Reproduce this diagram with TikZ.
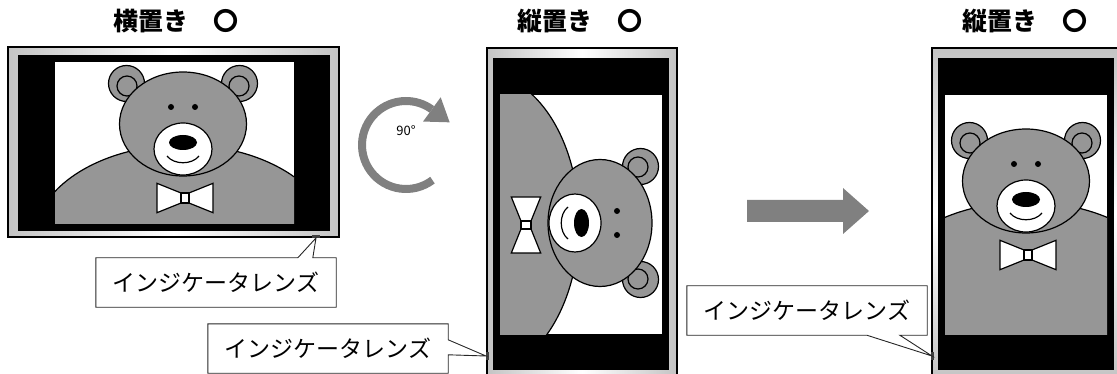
\documentclass[tikz,border=0pt]{standalone}
\usepackage{fontspec}
\newfontfamily\jp{Noto Sans CJK JP}
\usetikzlibrary{calc}
\definecolor{fur}{HTML}{969696}
\definecolor{arrowgray}{HTML}{808080}
\definecolor{bezel}{HTML}{C4C4C4}
\begin{document}
\begin{tikzpicture}[x=1pt,y=-1pt,
  bearline/.style={draw=black, line width=1.2pt},
  furpart/.style={bearline, fill=fur},
  whitepart/.style={bearline, fill=white},
  frameline/.style={draw=black, line width=1.4pt},
  titletext/.style={font=\jp\bfseries\fontsize{25pt}{27pt}\selectfont, inner sep=0pt},
  callouttext/.style={minimum width=240pt, minimum height=49pt, inner sep=0pt,
    font=\jp\fontsize{23pt}{25pt}\selectfont},
  calloutline/.style={draw=black!85, line width=0.9pt, line join=miter},
  lensmark/.style={fill=black!75},
  bigarrow/.style={fill=arrowgray, draw=none},
  % teddy bear, origin at the centre of its head
  bear/.pic={
    \path[furpart] (0,118) ellipse[x radius=150, y radius=97];
    \path[furpart] (-56.5,-40.5) circle[radius=18];
    \path[furpart] (56.5,-40.5) circle[radius=18];
    \path[furpart] (-56,-38) circle[radius=10];
    \path[furpart] (56,-38) circle[radius=10];
    \path[furpart] (0,0) ellipse[x radius=63.5, y radius=52];
    \fill (-12,-17) circle[radius=3];
    \fill (12,-17) circle[radius=3];
    \path[whitepart] (0,25) ellipse[x radius=29, y radius=26];
    \fill (0,18.5) ellipse[x radius=14, y radius=7.5];
    \draw[bearline] (-16,32) .. controls (-9,41) and (9,41) .. (16,32);
    \path[whitepart] (-2,69) -- (-26,59.3) -- (-26,88.7) -- (-2,79) -- cycle;
    \path[whitepart] (6,69) -- (30,59.3) -- (30,88.7) -- (6,79) -- cycle;
    \path[whitepart] (-2,69) rectangle (6,79);
  },
  % landscape television with the bear on screen, origin at its centre
  tvland/.pic={
    \shade[left color=bezel, right color=bezel, middle color=white]
      (-165.5,-95) rectangle (165.5,95);
    \draw[frameline] (-165.5,-95) rectangle (165.5,95);
    \fill[black] (-155.5,-87) rectangle (156.5,89);
    \begin{scope}
      \clip (-118.5,-80) rectangle (120.5,82);
      \fill[white] (-118.5,-80) rectangle (120.5,82);
      \pic[transform shape] at (9.5,-18) {bear};
    \end{scope}
    \fill[lensmark] (138.5,93.5) rectangle (146.5,96.5);
    \coordinate (-lens) at (142.5,96);
  }
]
\useasboundingbox (0,0) rectangle (1117,374);

% titles
\node[titletext] (tL) at (176,21) {横置き　〇};
\node[titletext] (tM) at (580,21) {縦置き　〇};
\node[titletext] (tR) at (1025,21) {縦置き　〇};

% landscape set and the same set turned a quarter turn
\pic (tvL) at (173.5,142) {tvland};
\pic[rotate=-90] (tvM) at (582,213.5) {tvland};

% portrait set with the picture kept upright
\shade[top color=bezel, bottom color=bezel, middle color=white]
  (932,48) rectangle (1122,379);
\draw[frameline] (932,48) rectangle (1122,379);
\fill[black] (938,58) rectangle (1114,370);
\begin{scope}
  \clip (945,95) rectangle (1107,334);
  \fill[white] (945,95) rectangle (1107,334);
  \pic at (1026,181) {bear};
\end{scope}
\fill[lensmark] (930.5,352) rectangle (933.5,360);
\coordinate (tvR-lens) at (932,356);

% quarter-turn arrow
\coordinate (rc) at (406,145);
\draw[arrowgray, line width=8pt] ($(rc)+(53:44)$) arc[start angle=53, end angle=306, radius=44];
\fill[arrowgray] ($(rc)+(306:59)$) -- ($(rc)+(306:44)+(36:22)$) -- ($(rc)+(306:29)$) -- cycle;
\node[font=\jp\fontsize{13pt}{15pt}\selectfont, inner sep=0pt] (deg) at (406,131) {90°};

% block arrow between the portrait sets
\fill[bigarrow] (747,200) -- (843,200) -- (843,188) -- (869,211) -- (843,234) -- (843,222) -- (747,222) -- cycle;

% callouts for the indicator lens
\node[callouttext] (cL) at (216,282.5) {インジケータレンズ};
\draw[calloutline] (cL.north west) -- ($(cL.north west)+(202,0)$) -- (tvL-lens)
  -- ($(cL.north west)+(217,0)$) -- (cL.north east) -- (cL.south east)
  -- (cL.south west) -- cycle;

\node[callouttext] (cM) at (328,348.5) {インジケータレンズ};
\draw[calloutline] (cM.north west) -- (cM.north east) -- ($(cM.north east)+(0,16)$)
  -- (tvM-lens) -- ($(cM.north east)+(0,31)$) -- (cM.south east)
  -- (cM.south west) -- cycle;

\node[callouttext] (cR) at (807,310.5) {インジケータレンズ};
\draw[calloutline] (cR.north west) -- (cR.north east) -- (cR.south east)
  -- ($(cR.south west)+(213,0)$) -- (tvR-lens) -- ($(cR.south west)+(180,0)$)
  -- (cR.south west) -- cycle;
\end{tikzpicture}
\end{document}
